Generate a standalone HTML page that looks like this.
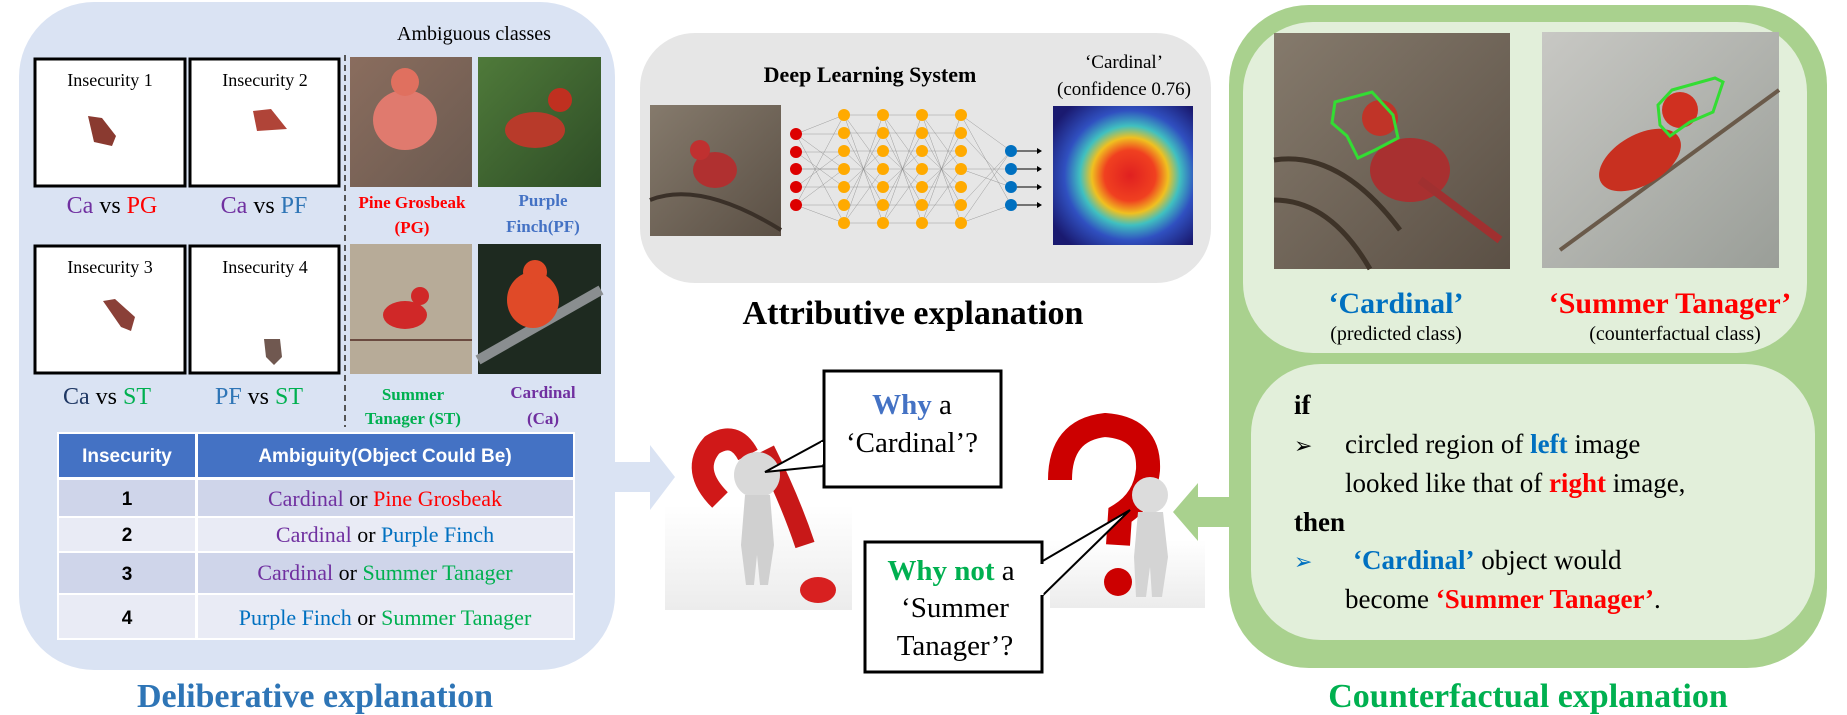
<!DOCTYPE html>
<html><head><meta charset="utf-8"><style>
html,body{margin:0;padding:0;background:#fff;}
svg{display:block;}
text{font-family:"Liberation Serif",serif;}
.s{font-family:"Liberation Sans",sans-serif;}
</style></head><body>
<svg width="1847" height="715" viewBox="0 0 1847 715" xmlns="http://www.w3.org/2000/svg">
<defs>
<radialGradient id="heat" cx="0.55" cy="0.5" r="0.65">
<stop offset="0" stop-color="#e02020"/><stop offset="0.28" stop-color="#f04020"/><stop offset="0.42" stop-color="#f0c020"/><stop offset="0.55" stop-color="#40c0c0"/><stop offset="0.72" stop-color="#3050c0"/><stop offset="1" stop-color="#1a1a70"/>
</radialGradient>
<linearGradient id="brown" x1="0" y1="0" x2="1" y2="1"><stop offset="0" stop-color="#857a6c"/><stop offset="1" stop-color="#5b5045"/></linearGradient>
<linearGradient id="green" x1="0" y1="0" x2="1" y2="1"><stop offset="0" stop-color="#4f7a3a"/><stop offset="1" stop-color="#2e4d26"/></linearGradient>
<linearGradient id="grayb" x1="0" y1="0" x2="1" y2="1"><stop offset="0" stop-color="#c8c8c4"/><stop offset="1" stop-color="#9a9e98"/></linearGradient>
<linearGradient id="pink" x1="0" y1="0" x2="1" y2="1"><stop offset="0" stop-color="#8a6d5e"/><stop offset="1" stop-color="#6b5a50"/></linearGradient>
<linearGradient id="floor" x1="0" y1="0" x2="0" y2="1"><stop offset="0" stop-color="#fff"/><stop offset="1" stop-color="#ececec"/></linearGradient>
</defs>

<!-- LEFT PANEL -->
<rect x="19" y="2" width="596" height="668" rx="75" fill="#dae3f3"/>
<text x="474" y="40" font-size="20" text-anchor="middle">Ambiguous classes</text>
<g fill="#fff" stroke="#000" stroke-width="3">
<rect x="35" y="59" width="150" height="127"/><rect x="190" y="59" width="149" height="127"/>
<rect x="35" y="246" width="150" height="127"/><rect x="190" y="246" width="149" height="127"/>
</g>
<g font-size="18" text-anchor="middle">
<text x="110" y="86">Insecurity 1</text><text x="265" y="86">Insecurity 2</text>
<text x="110" y="273">Insecurity 3</text><text x="265" y="273">Insecurity 4</text>
</g>
<path d="M88 116 l14 2 l14 18 l-4 10 l-18 -4 z" fill="#8a3a30"/>
<path d="M253 111 l18 -2 l16 20 l-30 2 z" fill="#b04438"/>
<path d="M103 301 l12 -2 l20 18 l-4 14 l-10 -4 z" fill="#8a4038"/>
<path d="M264 339 l16 0 l2 18 l-8 8 l-8 -8 z" fill="#705850"/>
<g font-size="24" text-anchor="middle">
<text x="112" y="213"><tspan fill="#7030a0">Ca</tspan> vs <tspan fill="#ff0000">PG</tspan></text>
<text x="264" y="213"><tspan fill="#7030a0">Ca</tspan> vs <tspan fill="#2e75b6">PF</tspan></text>
<text x="107" y="404"><tspan fill="#1f3864">Ca</tspan> vs <tspan fill="#00b050">ST</tspan></text>
<text x="259" y="404"><tspan fill="#2e75b6">PF</tspan> vs <tspan fill="#00b050">ST</tspan></text>
</g>
<line x1="345" y1="55" x2="345" y2="427" stroke="#555" stroke-width="2" stroke-dasharray="6,4"/>
<rect x="350" y="57" width="122" height="130" fill="url(#pink)"/>
<ellipse cx="405" cy="120" rx="32" ry="30" fill="#e07a6e"/><circle cx="405" cy="82" r="14" fill="#e0705f"/>
<rect x="478" y="57" width="123" height="130" fill="url(#green)"/>
<ellipse cx="535" cy="130" rx="30" ry="18" fill="#b83a2a"/><circle cx="560" cy="100" r="12" fill="#c03020"/>
<rect x="350" y="244" width="122" height="130" fill="#b7ab98"/>
<line x1="350" y1="340" x2="472" y2="340" stroke="#6a4a40" stroke-width="2"/>
<ellipse cx="405" cy="315" rx="22" ry="14" fill="#d02828"/><circle cx="420" cy="296" r="9" fill="#d02828"/>
<rect x="478" y="244" width="123" height="130" fill="#1e2a20"/>
<line x1="478" y1="360" x2="601" y2="290" stroke="#8a8e90" stroke-width="10"/>
<ellipse cx="533" cy="300" rx="26" ry="28" fill="#e04a28"/><circle cx="535" cy="272" r="12" fill="#e04a28"/>
<g font-size="17" font-weight="bold" text-anchor="middle">
<text x="412" y="208" fill="#ff0000">Pine Grosbeak</text><text x="412" y="233" fill="#ff0000">(PG)</text>
<text x="543" y="206" fill="#4472c4">Purple</text><text x="543" y="232" fill="#4472c4">Finch(PF)</text>
<text x="413" y="400" fill="#00b050">Summer</text><text x="413" y="424" fill="#00b050">Tanager (ST)</text>
<text x="543" y="398" fill="#7030a0">Cardinal</text><text x="543" y="424" fill="#7030a0">(Ca)</text>
</g>
<rect x="57" y="432" width="518" height="208" fill="#fff"/>
<rect x="59" y="434" width="136" height="43" fill="#4472c4"/><rect x="198" y="434" width="375" height="43" fill="#4472c4"/>
<g fill="#cfd5ea"><rect x="59" y="480" width="136" height="36"/><rect x="198" y="480" width="375" height="36"/>
<rect x="59" y="553" width="136" height="40"/><rect x="198" y="553" width="375" height="40"/></g>
<g fill="#e9ebf5"><rect x="59" y="518" width="136" height="33"/><rect x="198" y="518" width="375" height="33"/>
<rect x="59" y="595" width="136" height="43"/><rect x="198" y="595" width="375" height="43"/></g>
<g class="s" font-size="19" font-weight="bold" fill="#fff" text-anchor="middle">
<text class="s" x="127" y="462">Insecurity</text><text class="s" x="385" y="462">Ambiguity(Object Could Be)</text></g>
<g class="s" font-size="19" font-weight="bold" text-anchor="middle">
<text class="s" x="127" y="505">1</text><text class="s" x="127" y="541">2</text><text class="s" x="127" y="580">3</text><text class="s" x="127" y="624">4</text></g>
<g font-size="22" text-anchor="middle">
<text x="385" y="506"><tspan fill="#7030a0">Cardinal</tspan> or <tspan fill="#ff0000">Pine Grosbeak</tspan></text>
<text x="385" y="542"><tspan fill="#7030a0">Cardinal</tspan> or <tspan fill="#0070c0">Purple Finch</tspan></text>
<text x="385" y="580"><tspan fill="#7030a0">Cardinal</tspan> or <tspan fill="#00b050">Summer Tanager</tspan></text>
<text x="385" y="625"><tspan fill="#0070c0">Purple Finch</tspan> or <tspan fill="#00b050">Summer Tanager</tspan></text>
</g>
<text x="315" y="707" font-size="34" font-weight="bold" fill="#2e75b6" text-anchor="middle">Deliberative explanation</text>

<path d="M612 462 H650 V445 L675 477 L650 510 V492 H612 Z" fill="#dae3f3"/>

<!-- CENTER PANEL -->
<rect x="640" y="33" width="571" height="250" rx="55" fill="#e6e6e6"/>
<text x="870" y="82" font-size="22" font-weight="bold" text-anchor="middle">Deep Learning System</text>
<text x="1124" y="68" font-size="19" text-anchor="middle">‘Cardinal’</text>
<text x="1124" y="95" font-size="19" text-anchor="middle">(confidence 0.76)</text>
<rect x="650" y="105" width="131" height="131" fill="url(#brown)"/>
<path d="M650 200 Q700 180 781 230" stroke="#3a3028" stroke-width="4" fill="none"/>
<ellipse cx="715" cy="170" rx="22" ry="18" fill="#b03030"/><circle cx="700" cy="150" r="10" fill="#c03030"/>
<g stroke="#888" stroke-width="0.4" fill="none">
<path d="M796 134 L844 115 M796 134 L844 223 M796 205 L844 115 M796 205 L844 223 M796 169 L844 169 M796 152 L844 187 M796 187 L844 151 M796 134 L844 169 M796 205 L844 169"/>
<path d="M844 115 L883 223 M844 223 L883 115 M844 115 L883 169 M844 223 L883 169 M844 151 L883 187 M844 187 L883 151 M844 133 L883 205 M844 205 L883 133"/>
<path d="M883 115 L922 223 M883 223 L922 115 M883 115 L922 169 M883 223 L922 169 M883 151 L922 187 M883 187 L922 151 M883 133 L922 205 M883 205 L922 133"/>
<path d="M922 115 L961 223 M922 223 L961 115 M922 115 L961 169 M922 223 L961 169 M922 151 L961 187 M922 187 L961 151 M922 133 L961 205 M922 205 L961 133"/>
<path d="M961 115 L1011 151 M961 223 L1011 205 M961 115 L1011 205 M961 223 L1011 151 M961 169 L1011 169 M961 169 L1011 187 M961 133 L1011 187 M961 205 L1011 151"/>
<path d="M796 134H844M796 152H844M796 169H844M796 187H844M796 205H844M844 115H961M844 133H961M844 151H961M844 169H961M844 187H961M844 205H961M844 223H961"/>
</g>
<g fill="#dd0000"><circle cx="796" cy="134" r="6"/><circle cx="796" cy="152" r="6"/><circle cx="796" cy="169" r="6"/><circle cx="796" cy="187" r="6"/><circle cx="796" cy="205" r="6"/></g>
<g fill="#ffaa00">
<circle cx="844" cy="115" r="6"/><circle cx="844" cy="133" r="6"/><circle cx="844" cy="151" r="6"/><circle cx="844" cy="169" r="6"/><circle cx="844" cy="187" r="6"/><circle cx="844" cy="205" r="6"/><circle cx="844" cy="223" r="6"/>
<circle cx="883" cy="115" r="6"/><circle cx="883" cy="133" r="6"/><circle cx="883" cy="151" r="6"/><circle cx="883" cy="169" r="6"/><circle cx="883" cy="187" r="6"/><circle cx="883" cy="205" r="6"/><circle cx="883" cy="223" r="6"/>
<circle cx="922" cy="115" r="6"/><circle cx="922" cy="133" r="6"/><circle cx="922" cy="151" r="6"/><circle cx="922" cy="169" r="6"/><circle cx="922" cy="187" r="6"/><circle cx="922" cy="205" r="6"/><circle cx="922" cy="223" r="6"/>
<circle cx="961" cy="115" r="6"/><circle cx="961" cy="133" r="6"/><circle cx="961" cy="151" r="6"/><circle cx="961" cy="169" r="6"/><circle cx="961" cy="187" r="6"/><circle cx="961" cy="205" r="6"/><circle cx="961" cy="223" r="6"/>
</g>
<g stroke="#000" stroke-width="1"><path d="M1011 151H1038M1011 169H1038M1011 187H1038M1011 205H1038"/></g>
<g fill="#000"><path d="M1037 148l5 3l-5 3zM1037 166l5 3l-5 3zM1037 184l5 3l-5 3zM1037 202l5 3l-5 3z"/></g>
<g fill="#0070c0"><circle cx="1011" cy="151" r="6"/><circle cx="1011" cy="169" r="6"/><circle cx="1011" cy="187" r="6"/><circle cx="1011" cy="205" r="6"/></g>
<rect x="1053" y="106" width="140" height="139" fill="url(#heat)"/>
<text x="913" y="324" font-size="34" font-weight="bold" text-anchor="middle">Attributive explanation</text>

<!-- left figure -->
<rect x="665" y="505" width="187" height="105" fill="url(#floor)"/>
<path d="M720 500 Q690 470 712 445 Q735 430 748 455" stroke="#d01818" stroke-width="22" fill="none"/>
<path d="M765 450 Q790 500 805 545" stroke="#c81818" stroke-width="20" fill="none"/>
<ellipse cx="818" cy="590" rx="18" ry="13" fill="#d82020"/>
<circle cx="757" cy="475" r="23" fill="#d9d9d9"/>
<path d="M745 495 h25 l4 50 l-6 40 h-8 l-3 -30 l-3 30 h-8 l-5 -40 z" fill="#d0d0d0"/>
<!-- right figure -->
<rect x="1050" y="540" width="155" height="68" fill="url(#floor)"/>
<path d="M1060 480 Q1060 430 1105 425 Q1150 428 1148 470 Q1145 500 1120 515 L1118 545" stroke="#cc0000" stroke-width="24" fill="none"/>
<circle cx="1118" cy="582" r="14" fill="#cc0000"/>
<circle cx="1150" cy="495" r="18" fill="#dcdcdc"/>
<path d="M1138 512 h25 l5 45 l-6 40 h-10 l-2 -30 l-4 30 h-10 l-2 -40 z" fill="#d4d4d4"/>

<!-- speech boxes -->
<path d="M824 440 L765 472 L824 466" fill="#fff" stroke="#000" stroke-width="2"/>
<rect x="824" y="371" width="177" height="116" fill="#fff" stroke="#000" stroke-width="3"/>
<line x1="822" y1="442" x2="822" y2="464" stroke="#fff" stroke-width="2"/>
<text x="912" y="414" font-size="29" text-anchor="middle"><tspan fill="#4472c4" font-weight="bold">Why</tspan> a</text>
<text x="912" y="452" font-size="29" text-anchor="middle">‘Cardinal’?</text>
<path d="M1041 562 L1130 510 L1041 597" fill="#fff" stroke="#000" stroke-width="2"/>
<rect x="865" y="542" width="177" height="130" fill="#fff" stroke="#000" stroke-width="3"/>
<line x1="1042" y1="564" x2="1042" y2="595" stroke="#fff" stroke-width="3"/>
<text x="951" y="580" font-size="29" text-anchor="middle"><tspan fill="#00b050" font-weight="bold">Why not</tspan> a</text>
<text x="955" y="617" font-size="29" text-anchor="middle">‘Summer</text>
<text x="955" y="655" font-size="29" text-anchor="middle">Tanager’?</text>

<path d="M1232 497 H1198 V483 L1173 512 L1198 541 V527 H1232 Z" fill="#a9d18e"/>

<!-- RIGHT PANEL -->
<rect x="1229" y="5" width="598" height="663" rx="80" fill="#a9d18e"/>
<rect x="1243" y="22" width="564" height="331" rx="70" fill="#e2efda"/>
<rect x="1251" y="364" width="564" height="276" rx="70" fill="#e2efda"/>
<rect x="1274" y="33" width="236" height="236" fill="url(#brown)"/>
<path d="M1274 160 Q1340 150 1400 230 M1274 200 Q1330 200 1370 269" stroke="#3e3328" stroke-width="5" fill="none"/>
<ellipse cx="1410" cy="170" rx="40" ry="32" fill="#a83030"/><circle cx="1380" cy="118" r="18" fill="#c03428"/>
<path d="M1420 180 L1500 240" stroke="#a03030" stroke-width="8"/>
<path d="M1335 102 L1372 92 L1393 115 L1398 138 L1375 150 L1358 158 L1347 136 L1332 123 Z" fill="none" stroke="#33dd33" stroke-width="3"/>
<rect x="1542" y="32" width="237" height="236" fill="url(#grayb)"/>
<path d="M1560 250 L1779 90" stroke="#6a5a4a" stroke-width="4"/>
<ellipse cx="1640" cy="160" rx="45" ry="25" fill="#c83020" transform="rotate(-30 1640 160)"/><circle cx="1680" cy="110" r="18" fill="#d03020"/>
<path d="M1672 90 L1715 78 L1723 82 L1713 112 L1690 122 L1670 136 L1660 125 L1658 105 Z" fill="none" stroke="#33dd33" stroke-width="3"/>
<text x="1396" y="313" font-size="30" font-weight="bold" fill="#0070c0" text-anchor="middle">‘Cardinal’</text>
<text x="1396" y="340" font-size="20" text-anchor="middle">(predicted class)</text>
<text x="1670" y="313" font-size="30" font-weight="bold" fill="#ff0000" text-anchor="middle">‘Summer Tanager’</text>
<text x="1675" y="340" font-size="20" text-anchor="middle">(counterfactual class)</text>
<g font-size="27">
<text x="1294" y="414" font-weight="bold">if</text>
<text x="1294" y="453" font-size="22">➢</text>
<text x="1345" y="453">circled region of <tspan fill="#0070c0" font-weight="bold">left</tspan> image</text>
<text x="1345" y="492">looked like that of <tspan fill="#ff0000" font-weight="bold">right</tspan> image,</text>
<text x="1294" y="531" font-weight="bold">then</text>
<text x="1294" y="569" font-size="22" fill="#0070c0">➢</text>
<text x="1353" y="569"><tspan fill="#0070c0" font-weight="bold">‘Cardinal’</tspan> object would</text>
<text x="1345" y="608">become <tspan fill="#ff0000" font-weight="bold">‘Summer Tanager’</tspan>.</text>
</g>
<text x="1528" y="707" font-size="34" font-weight="bold" fill="#00b050" text-anchor="middle">Counterfactual explanation</text>
</svg>
</body></html>
